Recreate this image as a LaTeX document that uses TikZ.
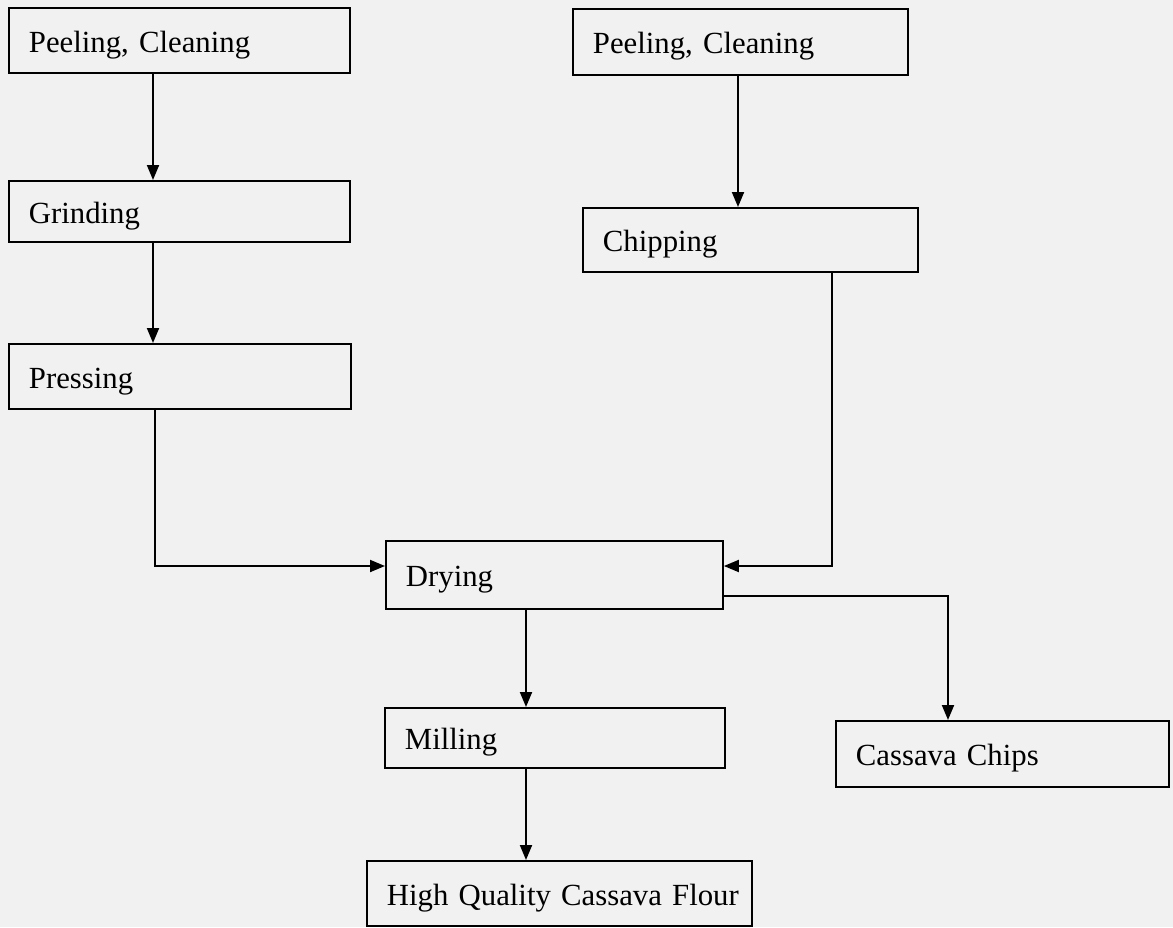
\documentclass[tikz,border=0pt]{standalone}
\usepackage{fontspec}
\setmainfont{Liberation Serif}
\usepackage{tikz}
\usetikzlibrary{arrows, arrows.meta, calc}
\definecolor{scanbg}{RGB}{241,241,241}
\tikzset{stepbox/.style={draw, rectangle, anchor=north west, line width=1.1pt, inner xsep=0.4cm, inner ysep=0pt, align=left, execute at begin node={\rule{0pt}{0.98em}}, font=\fontsize{17.5}{20}\selectfont}}
\tikzset{flow/.style={line width=1.1pt, -{Triangle[length=0.3cm, width=0.24cm]}}}

\begin{document}
\begin{tikzpicture}[x=0.02cm, y=-0.02cm]
\fill[scanbg] (0,0) rectangle (1173,927);
\useasboundingbox (0,0) rectangle (1173,927);

% left branch
  \node[stepbox, text width=6.02cm, minimum height=1.30cm] (peelL) at (8,7) {\mbox{Peeling, Cleaning}};
  \node[stepbox, text width=6.02cm, minimum height=1.22cm] (grind) at (8,180) {Grinding};
  \node[stepbox, text width=6.04cm, minimum height=1.30cm] (press) at (8,343) {Pressing};

% right branch
  \node[stepbox, text width=5.90cm, minimum height=1.32cm] (peelR) at (572,8) {\mbox{Peeling, Cleaning}};
  \node[stepbox, text width=5.90cm, minimum height=1.28cm] (chip) at (582,207) {Chipping};

% joined part
  \node[stepbox, text width=5.94cm, minimum height=1.36cm] (dry) at (385,540) {Drying};
  \node[stepbox, text width=6.00cm, minimum height=1.20cm] (mill) at (384,707) {Milling};
  \node[stepbox, text width=5.86cm, minimum height=1.32cm] (chips) at (835,720) {\mbox{Cassava Chips}};
  \node[stepbox, text width=6.90cm, minimum height=1.30cm] (flour) at (366,860) {\mbox{High Quality Cassava Flour}};

  \coordinate (lx) at (153,0);
  \coordinate (rx) at (738,0);
  \coordinate (pk) at (155,566);
  \coordinate (ck) at (832,566);
  \coordinate (dk) at (948,596);
  \coordinate (mx) at (526,0);

  \draw[flow] (lx |- peelL.south) -- (lx |- grind.north);
  \draw[flow] (lx |- grind.south) -- (lx |- press.north);
  \draw[flow] (rx |- peelR.south) -- (rx |- chip.north);
  \draw[flow] (pk |- press.south) -- (pk) -- (pk -| dry.west);
  \draw[flow] (ck |- chip.south) -- (ck) -- (ck -| dry.east);
  \draw[flow] (dk -| dry.east) -- (dk) -- (dk |- chips.north);
  \draw[flow] (mx |- dry.south) -- (mx |- mill.north);
  \draw[flow] (mx |- mill.south) -- (mx |- flour.north);
\end{tikzpicture}
\end{document}
